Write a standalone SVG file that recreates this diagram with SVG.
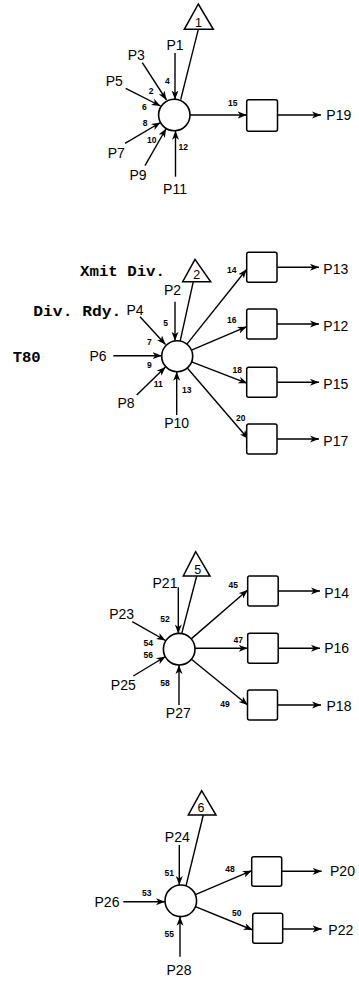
<svg xmlns="http://www.w3.org/2000/svg" width="359" height="981" viewBox="0 0 359 981">
<style>
.bg{fill:#fff}
.c{fill:#fff;stroke:#000;stroke-width:1.6}
.b{fill:#fff;stroke:#000;stroke-width:1.5}
.t{fill:#fff;stroke:#000;stroke-width:1.5;stroke-linejoin:miter}
.l{stroke:#000;stroke-width:1.4;fill:none}
.a{stroke:#000;stroke-width:1.4;fill:none;marker-end:url(#ah)}
.p{font-family:"Liberation Sans",Arial,sans-serif;font-size:14px;fill:#000;text-anchor:middle}
.d{font-family:"Liberation Sans",Arial,sans-serif;font-size:12.5px;fill:#000;text-anchor:middle}
.n{font-family:"Liberation Sans",Arial,sans-serif;font-size:8.5px;font-weight:bold;fill:#000;text-anchor:middle}
.m{font-family:"Liberation Mono","Courier New",monospace;font-size:15.5px;font-weight:bold;fill:#000}
</style>
<defs>
<marker id="ah" markerUnits="userSpaceOnUse" markerWidth="10" markerHeight="8" viewBox="0 0 10 8" refX="9" refY="4" orient="auto">
<path d="M0,0.5 L9,4 L0,7.5 L2.5,4 z" fill="#000"/>
</marker>
</defs>
<rect class="bg" x="0" y="0" width="359" height="981"/>

<g id="connectors">
<!-- section 1 -->
<line class="l" x1="198.3" y1="29.3" x2="180.7" y2="99.6"/>
<line class="a" x1="175" y1="53" x2="175" y2="99.5"/>
<line class="a" x1="142.3" y1="62.7" x2="166.5" y2="100"/>
<line class="a" x1="125.7" y1="88.3" x2="160.5" y2="106"/>
<line class="a" x1="125" y1="143.3" x2="160.5" y2="122.5"/>
<line class="a" x1="145" y1="165.7" x2="166.2" y2="128.5"/>
<line class="a" x1="175.5" y1="176.7" x2="175.5" y2="130.8"/>
<line class="a" x1="190" y1="115" x2="246.7" y2="115"/>
<line class="a" x1="277.5" y1="115" x2="321" y2="115"/>
<!-- section 2 -->
<line class="l" x1="193.3" y1="281.7" x2="180.2" y2="340.9"/>
<line class="a" x1="175" y1="301.7" x2="175" y2="340.8"/>
<line class="a" x1="140" y1="316.7" x2="165.5" y2="344.5"/>
<line class="a" x1="113.3" y1="355.7" x2="161.6" y2="355.7"/>
<line class="a" x1="136.7" y1="395" x2="165.5" y2="367"/>
<line class="a" x1="176.7" y1="415" x2="176.7" y2="371.7"/>
<line class="a" x1="186.9" y1="344.1" x2="246.7" y2="269.3"/>
<line class="a" x1="191.5" y1="350.1" x2="246.7" y2="326.7"/>
<line class="a" x1="191.6" y1="361.8" x2="247.3" y2="383.3"/>
<line class="a" x1="187.3" y1="368" x2="248.3" y2="439"/>
<line class="a" x1="277" y1="267.3" x2="319" y2="267.3"/>
<line class="a" x1="277" y1="324" x2="319" y2="324"/>
<line class="a" x1="277" y1="382.3" x2="319" y2="382.3"/>
<line class="a" x1="277" y1="439" x2="319" y2="439"/>
<!-- section 3 -->
<line class="l" x1="196.7" y1="576" x2="181.7" y2="633.6"/>
<line class="a" x1="178.3" y1="587.3" x2="178.3" y2="633.4"/>
<line class="a" x1="132.3" y1="621.7" x2="165.5" y2="640.5"/>
<line class="a" x1="133.3" y1="676" x2="165.5" y2="656.5"/>
<line class="a" x1="179" y1="705" x2="179" y2="665"/>
<line class="a" x1="191.2" y1="638.9" x2="247.7" y2="590"/>
<line class="a" x1="195" y1="648.3" x2="247.7" y2="648.3"/>
<line class="a" x1="191.4" y1="659.2" x2="247.7" y2="705"/>
<line class="a" x1="278" y1="591" x2="320" y2="591"/>
<line class="a" x1="278" y1="648.3" x2="320" y2="648.3"/>
<line class="a" x1="277.5" y1="705" x2="321" y2="705"/>
<!-- section 4 -->
<line class="l" x1="203.3" y1="815" x2="186" y2="885.8"/>
<line class="a" x1="179.3" y1="845" x2="179.3" y2="885"/>
<line class="a" x1="123.3" y1="901.7" x2="165" y2="901.7"/>
<line class="a" x1="180" y1="956.7" x2="180" y2="916.7"/>
<line class="a" x1="195.4" y1="894.6" x2="251.7" y2="870.7"/>
<line class="a" x1="195.4" y1="906.7" x2="252.7" y2="930"/>
<line class="a" x1="281.7" y1="871.3" x2="321.7" y2="871.3"/>
<line class="a" x1="282.7" y1="929" x2="321.7" y2="929"/>
</g>

<!-- Section 1 -->
<g id="s1-trigger">
<polygon class="t" points="198.3,4 184.3,29.3 213.3,29.3"/>
<text class="d" x="198.5" y="26.5">1</text>
</g>
<g id="s1-node">
<circle class="c" cx="174.3" cy="115" r="15.7"/>
</g>
<g id="s1-box">
<rect class="b" x="246.7" y="99.7" width="30.8" height="31.6" rx="2"/>
</g>
<g id="s1-labels">
<text class="p" x="175" y="50">P1</text>
<text class="p" x="136.3" y="59.7">P3</text>
<text class="p" x="114.3" y="86.3">P5</text>
<text class="p" x="116.3" y="158.3">P7</text>
<text class="p" x="138" y="180.3">P9</text>
<text class="p" x="175" y="194">P11</text>
<text class="p" x="338.8" y="120">P19</text>
<text class="n" x="167.3" y="83.7">4</text>
<text class="n" x="151" y="93.7">2</text>
<text class="n" x="144.3" y="110.3">6</text>
<text class="n" x="145" y="125.7">8</text>
<text class="n" x="151.7" y="143">10</text>
<text class="n" x="183.3" y="149.7">12</text>
<text class="n" x="232.7" y="105.7">15</text>
</g>

<!-- Section 2 -->
<g id="s2-text">
<text class="m" x="80" y="276" textLength="85" lengthAdjust="spacingAndGlyphs">Xmit Div.</text>
<text class="m" x="33.3" y="315.5" textLength="88" lengthAdjust="spacingAndGlyphs">Div. Rdy.</text>
<text class="m" x="12.7" y="361.5" textLength="28" lengthAdjust="spacingAndGlyphs">T80</text>
</g>
<g id="s2-trigger">
<polygon class="t" points="195,259.3 182.7,281.7 210.7,281.7"/>
<text class="d" x="196.7" y="278.5">2</text>
</g>
<g id="s2-node">
<circle class="c" cx="177.2" cy="356.2" r="15.5"/>
</g>
<g id="s2-box1"><rect class="b" x="246.7" y="252.3" width="30.3" height="30" rx="2"/></g>
<g id="s2-box2"><rect class="b" x="246.7" y="309" width="30.3" height="30" rx="2"/></g>
<g id="s2-box3"><rect class="b" x="246.7" y="367.3" width="30.3" height="30" rx="2"/></g>
<g id="s2-box4"><rect class="b" x="246.7" y="424" width="30.3" height="30" rx="2"/></g>
<g id="s2-labels">
<text class="p" x="172.5" y="295">P2</text>
<text class="p" x="135" y="315">P4</text>
<text class="p" x="98" y="361.3">P6</text>
<text class="p" x="126" y="408.3">P8</text>
<text class="p" x="176.7" y="428.3">P10</text>
<text class="p" x="335.8" y="274.3">P13</text>
<text class="p" x="335.8" y="331">P12</text>
<text class="p" x="335.8" y="389">P15</text>
<text class="p" x="335.8" y="445.7">P17</text>
<text class="n" x="165.7" y="326.3">5</text>
<text class="n" x="149.3" y="344.7">7</text>
<text class="n" x="149.3" y="368">9</text>
<text class="n" x="158.3" y="387">11</text>
<text class="n" x="186.7" y="393">13</text>
<text class="n" x="231.7" y="273">14</text>
<text class="n" x="231.7" y="323">16</text>
<text class="n" x="237.3" y="373">18</text>
<text class="n" x="240.7" y="421.3">20</text>
</g>

<!-- Section 3 -->
<g id="s3-trigger">
<polygon class="t" points="195.7,551.7 183.3,576 210,576"/>
<text class="d" x="197.7" y="573.5">5</text>
</g>
<g id="s3-node">
<circle class="c" cx="179.2" cy="649.2" r="15.8"/>
</g>
<g id="s3-box1"><rect class="b" x="247.7" y="576" width="30.5" height="30" rx="2"/></g>
<g id="s3-box2"><rect class="b" x="247.7" y="633.3" width="30.5" height="30" rx="2"/></g>
<g id="s3-box3"><rect class="b" x="247.5" y="690" width="30" height="30" rx="2"/></g>
<g id="s3-labels">
<text class="p" x="165" y="588.3">P21</text>
<text class="p" x="121.7" y="619.3">P23</text>
<text class="p" x="123.3" y="690">P25</text>
<text class="p" x="178.3" y="718.3">P27</text>
<text class="p" x="336.7" y="598.3">P14</text>
<text class="p" x="336.7" y="652.7">P16</text>
<text class="p" x="339" y="710.7">P18</text>
<text class="n" x="165" y="622.3">52</text>
<text class="n" x="148.3" y="646.3">54</text>
<text class="n" x="148.3" y="658">56</text>
<text class="n" x="165" y="686.3">58</text>
<text class="n" x="233.3" y="588">45</text>
<text class="n" x="238.3" y="643">47</text>
<text class="n" x="225" y="707">49</text>
</g>

<!-- Section 4 -->
<g id="s4-trigger">
<polygon class="t" points="201.7,790.7 188.3,815 216,815"/>
<text class="d" x="201" y="811.8">6</text>
</g>
<g id="s4-node">
<circle class="c" cx="180.8" cy="900.8" r="15.8"/>
</g>
<g id="s4-box1"><rect class="b" x="251.7" y="856.7" width="30" height="29.5" rx="2"/></g>
<g id="s4-box2"><rect class="b" x="252.7" y="913.3" width="30" height="30" rx="2"/></g>
<g id="s4-labels">
<text class="p" x="177.3" y="842.3">P24</text>
<text class="p" x="107" y="907.3">P26</text>
<text class="p" x="179" y="975">P28</text>
<text class="p" x="342.5" y="876.3">P20</text>
<text class="p" x="340.8" y="935">P22</text>
<text class="n" x="169.3" y="876.3">51</text>
<text class="n" x="146.7" y="895.7">53</text>
<text class="n" x="169.3" y="937.3">55</text>
<text class="n" x="230" y="872.3">48</text>
<text class="n" x="236.7" y="915.7">50</text>
</g>
</svg>
